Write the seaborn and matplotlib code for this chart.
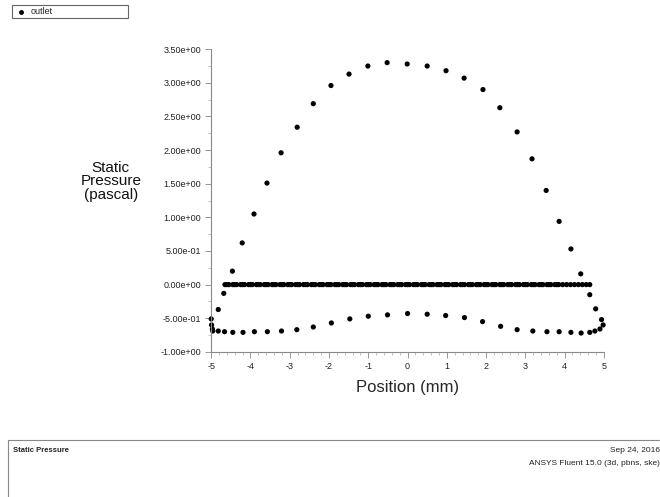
import numpy as np
import pandas as pd
import matplotlib
matplotlib.use("Agg")
import matplotlib.pyplot as plt
from matplotlib.patches import Rectangle
from matplotlib.lines import Line2D
from matplotlib.ticker import MultipleLocator, AutoMinorLocator, FuncFormatter
import seaborn as sns

# upper branch (parabolic profile)
upper_x = [-4.68, -4.46, -4.21, -3.91, -3.58, -3.22, -2.81, -2.40, -1.95, -1.49, -1.01, -0.52,
           -0.01, 0.50, 0.98, 1.44, 1.92, 2.35, 2.79, 3.17, 3.53, 3.86, 4.16, 4.41, 4.64]
upper_y = [-0.13, 0.20, 0.62, 1.05, 1.51, 1.96, 2.34, 2.69, 2.96, 3.13, 3.25, 3.30,
           3.28, 3.25, 3.18, 3.07, 2.90, 2.63, 2.27, 1.87, 1.40, 0.94, 0.53, 0.16, -0.15]

# lower branch
lower_x = [-4.82, -5.00, -4.99, -4.97, -4.96, -4.82, -4.66, -4.45, -4.19, -3.90, -3.57, -3.21,
           -2.82, -2.40, -1.94, -1.47, -1.00, -0.51, 0.00, 0.50, 0.97, 1.45, 1.91, 2.37,
           2.79, 3.19, 3.55, 3.86, 4.16, 4.42, 4.64, 4.77, 4.90, 4.98, 4.94, 4.79]
lower_y = [-0.37, -0.51, -0.60, -0.66, -0.69, -0.69, -0.70, -0.71, -0.71, -0.70, -0.70, -0.69,
           -0.67, -0.63, -0.57, -0.51, -0.47, -0.45, -0.43, -0.44, -0.46, -0.49, -0.55, -0.62,
           -0.67, -0.69, -0.70, -0.70, -0.71, -0.72, -0.71, -0.69, -0.66, -0.60, -0.52, -0.36]

# wall nodes at zero pressure
zero_x = [-4.65, -4.55, -4.45, -4.35, -4.25, -4.15, -4.05, -3.95, -3.85, -3.75, -3.65, -3.55,
          -3.45, -3.35, -3.25, -3.15, -3.05, -2.95, -2.85, -2.75, -2.65, -2.55, -2.45, -2.35,
          -2.25, -2.15, -2.05, -1.95, -1.85, -1.75, -1.65, -1.55, -1.45, -1.35, -1.25, -1.15,
          -1.05, -0.95, -0.85, -0.75, -0.65, -0.55, -0.45, -0.35, -0.25, -0.15, -0.05, 0.05,
          0.15, 0.25, 0.35, 0.45, 0.55, 0.65, 0.75, 0.85, 0.95, 1.05, 1.15, 1.25, 1.35, 1.45,
          1.55, 1.65, 1.75, 1.85, 1.95, 2.05, 2.15, 2.25, 2.35, 2.45, 2.55, 2.65, 2.75, 2.85,
          2.95, 3.05, 3.15, 3.25, 3.35, 3.45, 3.55, 3.65, 3.75, 3.85, 3.95, 4.05, 4.15, 4.25,
          4.35, 4.45, 4.55, 4.64,
          -4.6, -4.4, -4.2, -4.0, -3.8, -3.6, -3.4, -3.2, -3.0, -2.8, -2.6, -2.4, -2.2, -2.0,
          -1.8, -1.6, -1.4, -1.2, -1.0, -0.8, -0.6, -0.4, -0.2, 0.0, 0.2, 0.4, 0.6, 0.8, 1.0,
          1.2, 1.4, 1.6, 1.8, 2.0, 2.2, 2.4, 2.6, 2.8, 3.0, 3.2, 3.4, 3.6, 3.8]
zero_y = [0.0] * len(zero_x)

df = pd.DataFrame({
    "position": upper_x + lower_x + zero_x,
    "pressure": upper_y + lower_y + zero_y,
    "surface": "outlet",
})

sns.set_style("white")
plt.rcParams["font.family"] = ["Liberation Sans", "DejaVu Sans"]

fig = plt.figure(figsize=(6.6, 4.97), dpi=100)
ax = fig.add_axes([0.320, 0.292, 0.595, 0.609])

sns.scatterplot(data=df, x="position", y="pressure", color="black", s=14,
                edgecolor="none", legend=False, ax=ax, clip_on=False)

ax.set_xlim(-5, 5)
ax.set_ylim(-1.0, 3.5)
ax.xaxis.set_major_locator(MultipleLocator(1))
ax.xaxis.set_minor_locator(AutoMinorLocator(5))
ax.yaxis.set_major_locator(MultipleLocator(0.5))
ax.yaxis.set_minor_locator(AutoMinorLocator(2))
ax.yaxis.set_major_formatter(FuncFormatter(lambda v, p: f"{v:.2e}"))
ax.xaxis.set_major_formatter(FuncFormatter(lambda v, p: f"{int(round(v))}"))

for side in ["top", "right"]:
    ax.spines[side].set_visible(False)
for side in ["left", "bottom"]:
    ax.spines[side].set_color("#888888")
    ax.spines[side].set_linewidth(0.8)
ax.tick_params(which="major", direction="out", length=4, width=0.6, color="#888888",
               labelsize=6.5, labelcolor="#222222", left=True, bottom=True)
ax.tick_params(which="minor", direction="out", length=2, width=0.5, color="#aaaaaa",
               left=True, bottom=True)

ax.set_xlabel("Position (mm)", fontsize=12, labelpad=6)
ax.set_ylabel("")
fig.text(0.168, 0.635, "Static\nPressure\n(pascal)", fontsize=11, ha="center", va="center",
         linespacing=0.95, color="#111111")

# legend box
fig.add_artist(Rectangle((0.018, 0.963), 0.176, 0.027, transform=fig.transFigure,
                         fill=False, edgecolor="#666666", linewidth=0.8))
fig.add_artist(Line2D([0.032], [0.9765], transform=fig.transFigure, marker="o",
                      markersize=2.5, color="black", linestyle="none"))
fig.text(0.047, 0.9765, "outlet", fontsize=6.5, va="center", ha="left", color="#222222")

# footer box
fig.add_artist(Rectangle((0.012, -0.01), 1.0, 0.125, transform=fig.transFigure,
                         fill=False, edgecolor="#888888", linewidth=0.8))
fig.text(0.020, 0.093, "Static Pressure", fontsize=5.5, va="center", ha="left",
         fontweight="bold", color="#222222")
fig.text(1.0, 0.093, "Sep 24, 2016", fontsize=6, va="center", ha="right", color="#222222")
fig.text(1.0, 0.068, "ANSYS Fluent 15.0 (3d, pbns, ske)", fontsize=6, va="center",
         ha="right", color="#222222")

fig.savefig("out.png", dpi=100)
